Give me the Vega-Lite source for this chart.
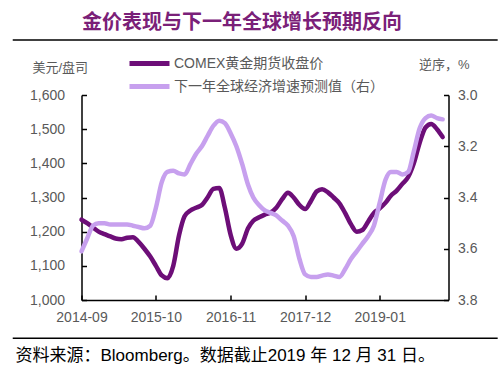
{
  "$schema": "https://vega.github.io/schema/vega-lite/v6.json",
  "width": 367,
  "height": 205,
  "autosize": {"type": "none"},
  "padding": {"left": 81.5, "top": 95, "right": 55.5, "bottom": 69},
  "background": "white",
  "config": {
    "view": {"stroke": null},
    "font": "Liberation Sans",
    "axis": {
      "grid": false,
      "domainColor": "#000000",
      "tickColor": "#000000",
      "labelColor": "#595959",
      "labelFontSize": 14,
      "labelFont": "Liberation Sans",
      "domainWidth": 1.5,
      "tickWidth": 1.5,
      "tickSize": -5,
      "titleFontWeight": "normal",
      "titleFont": "Liberation Sans, Noto Sans CJK SC",
      "titleColor": "#595959",
      "titleFontSize": 13
    }
  },
  "title": {
    "text": "金价表现与下一年全球增长预期反向",
    "font": "Noto Sans CJK SC",
    "fontSize": 20,
    "fontWeight": "bold",
    "color": "#7a2078",
    "anchor": "middle",
    "frame": "group",
    "dx": -23,
    "offset": 6
  },
  "datasets": {
    "gold": [
      {"date": "2014-09-01", "value": 1235}, {"date": "2014-10-01", "value": 1225}, {"date": "2014-11-01", "value": 1212},
      {"date": "2014-12-01", "value": 1200}, {"date": "2015-01-01", "value": 1193}, {"date": "2015-02-01", "value": 1186},
      {"date": "2015-03-01", "value": 1180}, {"date": "2015-04-01", "value": 1178}, {"date": "2015-05-01", "value": 1182},
      {"date": "2015-06-01", "value": 1184}, {"date": "2015-07-01", "value": 1170}, {"date": "2015-08-01", "value": 1150},
      {"date": "2015-09-01", "value": 1127}, {"date": "2015-10-01", "value": 1100}, {"date": "2015-11-01", "value": 1072},
      {"date": "2015-12-01", "value": 1064}, {"date": "2016-01-01", "value": 1100}, {"date": "2016-02-01", "value": 1190},
      {"date": "2016-03-01", "value": 1245}, {"date": "2016-04-01", "value": 1262}, {"date": "2016-05-01", "value": 1270},
      {"date": "2016-06-01", "value": 1278}, {"date": "2016-07-01", "value": 1300}, {"date": "2016-08-01", "value": 1325},
      {"date": "2016-09-01", "value": 1328}, {"date": "2016-10-01", "value": 1270}, {"date": "2016-11-01", "value": 1190},
      {"date": "2016-12-01", "value": 1150}, {"date": "2017-01-01", "value": 1165}, {"date": "2017-02-01", "value": 1210},
      {"date": "2017-03-01", "value": 1232}, {"date": "2017-04-01", "value": 1242}, {"date": "2017-05-01", "value": 1250},
      {"date": "2017-06-01", "value": 1256}, {"date": "2017-07-01", "value": 1270}, {"date": "2017-08-01", "value": 1295},
      {"date": "2017-09-01", "value": 1314}, {"date": "2017-10-01", "value": 1300}, {"date": "2017-11-01", "value": 1278},
      {"date": "2017-12-01", "value": 1266}, {"date": "2018-01-01", "value": 1290}, {"date": "2018-02-01", "value": 1318},
      {"date": "2018-03-01", "value": 1324}, {"date": "2018-04-01", "value": 1315}, {"date": "2018-05-01", "value": 1300},
      {"date": "2018-06-01", "value": 1283}, {"date": "2018-07-01", "value": 1255}, {"date": "2018-08-01", "value": 1222},
      {"date": "2018-09-01", "value": 1200}, {"date": "2018-10-01", "value": 1205}, {"date": "2018-11-01", "value": 1230},
      {"date": "2018-12-01", "value": 1255}, {"date": "2019-01-01", "value": 1268}, {"date": "2019-02-01", "value": 1285},
      {"date": "2019-03-01", "value": 1305}, {"date": "2019-04-01", "value": 1320}, {"date": "2019-05-01", "value": 1340},
      {"date": "2019-06-01", "value": 1360}, {"date": "2019-07-01", "value": 1400}, {"date": "2019-08-01", "value": 1460},
      {"date": "2019-09-01", "value": 1505}, {"date": "2019-10-01", "value": 1515}, {"date": "2019-11-01", "value": 1500},
      {"date": "2019-12-01", "value": 1477}
    ],
    "growth": [
      {"date": "2014-09-01", "value": 3.61}, {"date": "2014-10-01", "value": 3.56}, {"date": "2014-11-01", "value": 3.51},
      {"date": "2014-12-01", "value": 3.50}, {"date": "2015-01-01", "value": 3.50}, {"date": "2015-02-01", "value": 3.505},
      {"date": "2015-03-01", "value": 3.505}, {"date": "2015-04-01", "value": 3.505}, {"date": "2015-05-01", "value": 3.505},
      {"date": "2015-06-01", "value": 3.51}, {"date": "2015-07-01", "value": 3.515}, {"date": "2015-08-01", "value": 3.52},
      {"date": "2015-09-01", "value": 3.51}, {"date": "2015-10-01", "value": 3.44}, {"date": "2015-11-01", "value": 3.34},
      {"date": "2015-12-01", "value": 3.30}, {"date": "2016-01-01", "value": 3.296}, {"date": "2016-02-01", "value": 3.306},
      {"date": "2016-03-01", "value": 3.31}, {"date": "2016-04-01", "value": 3.27}, {"date": "2016-05-01", "value": 3.23},
      {"date": "2016-06-01", "value": 3.20}, {"date": "2016-07-01", "value": 3.16}, {"date": "2016-08-01", "value": 3.12},
      {"date": "2016-09-01", "value": 3.10}, {"date": "2016-10-01", "value": 3.11}, {"date": "2016-11-01", "value": 3.15},
      {"date": "2016-12-01", "value": 3.20}, {"date": "2017-01-01", "value": 3.27}, {"date": "2017-02-01", "value": 3.35},
      {"date": "2017-03-01", "value": 3.40}, {"date": "2017-04-01", "value": 3.43}, {"date": "2017-05-01", "value": 3.45},
      {"date": "2017-06-01", "value": 3.46}, {"date": "2017-07-01", "value": 3.47}, {"date": "2017-08-01", "value": 3.49},
      {"date": "2017-09-01", "value": 3.51}, {"date": "2017-10-01", "value": 3.55}, {"date": "2017-11-01", "value": 3.64},
      {"date": "2017-12-01", "value": 3.70}, {"date": "2018-01-01", "value": 3.71}, {"date": "2018-02-01", "value": 3.71},
      {"date": "2018-03-01", "value": 3.705}, {"date": "2018-04-01", "value": 3.70}, {"date": "2018-05-01", "value": 3.705},
      {"date": "2018-06-01", "value": 3.71}, {"date": "2018-07-01", "value": 3.68}, {"date": "2018-08-01", "value": 3.64},
      {"date": "2018-09-01", "value": 3.61}, {"date": "2018-10-01", "value": 3.58}, {"date": "2018-11-01", "value": 3.55},
      {"date": "2018-12-01", "value": 3.51}, {"date": "2019-01-01", "value": 3.42}, {"date": "2019-02-01", "value": 3.33},
      {"date": "2019-03-01", "value": 3.30}, {"date": "2019-04-01", "value": 3.30}, {"date": "2019-05-01", "value": 3.31},
      {"date": "2019-06-01", "value": 3.30}, {"date": "2019-07-01", "value": 3.22}, {"date": "2019-08-01", "value": 3.13},
      {"date": "2019-09-01", "value": 3.09}, {"date": "2019-10-01", "value": 3.08}, {"date": "2019-11-01", "value": 3.09},
      {"date": "2019-12-01", "value": 3.095}
    ]
  },
  "layer": [
    {
      "data": {"name": "gold"},
      "mark": {"type": "line", "interpolate": "monotone", "strokeWidth": 4.5, "strokeCap": "round"},
      "encoding": {
        "x": {
          "field": "date",
          "type": "temporal",
          "scale": {
            "type": "utc",
            "domain": [
              {"year": 2014, "month": 9, "date": 1, "utc": true},
              {"year": 2020, "month": 1, "date": 1, "utc": true}
            ]
          },
          "axis": {
            "values": [
              {"year": 2014, "month": 9, "date": 1, "utc": true},
              {"year": 2015, "month": 10, "date": 1, "utc": true},
              {"year": 2016, "month": 11, "date": 1, "utc": true},
              {"year": 2017, "month": 12, "date": 1, "utc": true},
              {"year": 2019, "month": 1, "date": 1, "utc": true}
            ],
            "labelExpr": "utcFormat(datum.value, '%Y-%m')",
            "labelPadding": 15,
            "labelOverlap": false,
            "labelFlush": false,
            "title": "资料来源：Bloomberg。数据截止2019 年 12 月 31 日。",
            "titleX": -66.5,
            "titleY": 55,
            "titleAlign": "left",
            "titleBaseline": "middle",
            "titleFontSize": 17,
            "titleColor": "#000000",
            "titleFont": "Liberation Sans, Noto Sans CJK SC"
          }
        },
        "y": {
          "field": "value",
          "type": "quantitative",
          "scale": {"domain": [1000, 1600], "nice": false, "zero": false},
          "axis": {
            "orient": "left",
            "values": [1000, 1100, 1200, 1300, 1400, 1500, 1600],
            "format": ",d",
            "labelOverlap": false,
            "labelPadding": 22,
            "title": "美元/盘司",
            "titleAngle": 0,
            "titleX": -49.5,
            "titleY": -28,
            "titleAlign": "left",
            "titleBaseline": "middle"
          }
        },
        "color": {
          "datum": "COMEX黄金期货收盘价",
          "type": "nominal",
          "scale": {
            "domain": ["COMEX黄金期货收盘价", "下一年全球经济增速预测值（右）"],
            "range": ["#6d0e78", "#c7a0ee"]
          },
          "legend": {
            "orient": "none",
            "legendX": 55.5,
            "legendY": -44,
            "title": null,
            "symbolType": "M-2,0L2,0",
            "symbolStrokeWidth": 5,
            "symbolSize": 400,
            "labelFontSize": 14,
            "labelColor": "#595959",
            "labelFont": "Liberation Sans, Noto Sans CJK SC",
            "labelLimit": 400,
            "labelOffset": 12,
            "rowPadding": 0
          }
        }
      }
    },
    {
      "data": {"name": "growth"},
      "mark": {"type": "line", "interpolate": "monotone", "strokeWidth": 4.5, "strokeCap": "round"},
      "encoding": {
        "x": {
          "field": "date",
          "type": "temporal",
          "scale": {
            "type": "utc",
            "domain": [
              {"year": 2014, "month": 9, "date": 1, "utc": true},
              {"year": 2020, "month": 1, "date": 1, "utc": true}
            ]
          },
          "axis": null
        },
        "y": {
          "field": "value",
          "type": "quantitative",
          "scale": {"domain": [3.0, 3.8], "reverse": true, "nice": false, "zero": false},
          "axis": {
            "orient": "right",
            "values": [3.0, 3.2, 3.4, 3.6, 3.8],
            "format": ".1f",
            "labelPadding": 14,
            "title": "逆序，%",
            "titleAngle": 0,
            "titleX": -30,
            "titleY": -31,
            "titleAlign": "left",
            "titleBaseline": "middle"
          }
        },
        "color": {"datum": "下一年全球经济增速预测值（右）", "type": "nominal"}
      }
    },
    {
      "data": {"values": [{}]},
      "mark": {"type": "rule", "clip": false, "color": "#000000", "strokeWidth": 1.5},
      "encoding": {
        "x": {
          "datum": {"year": 2013, "month": 9, "date": 1, "utc": true},
          "type": "temporal",
          "scale": {
            "type": "utc",
            "domain": [
              {"year": 2014, "month": 9, "date": 1, "utc": true},
              {"year": 2020, "month": 1, "date": 1, "utc": true}
            ]
          },
          "axis": null
        },
        "x2": {"datum": {"year": 2020, "month": 9, "date": 18, "utc": true}},
        "y": {"datum": 1761, "type": "quantitative", "scale": {"domain": [1000, 1600], "nice": false, "zero": false}, "axis": null}
      }
    },
    {
      "data": {"values": [{}]},
      "mark": {"type": "rule", "clip": false, "color": "#000000", "strokeWidth": 1.5},
      "encoding": {
        "x": {
          "datum": {"year": 2013, "month": 9, "date": 1, "utc": true},
          "type": "temporal",
          "scale": {
            "type": "utc",
            "domain": [
              {"year": 2014, "month": 9, "date": 1, "utc": true},
              {"year": 2020, "month": 1, "date": 1, "utc": true}
            ]
          },
          "axis": null
        },
        "x2": {"datum": {"year": 2020, "month": 9, "date": 18, "utc": true}},
        "y": {"datum": 888, "type": "quantitative", "scale": {"domain": [1000, 1600], "nice": false, "zero": false}, "axis": null}
      }
    }
  ],
  "resolve": {"scale": {"x": "independent", "y": "independent"}}
}
